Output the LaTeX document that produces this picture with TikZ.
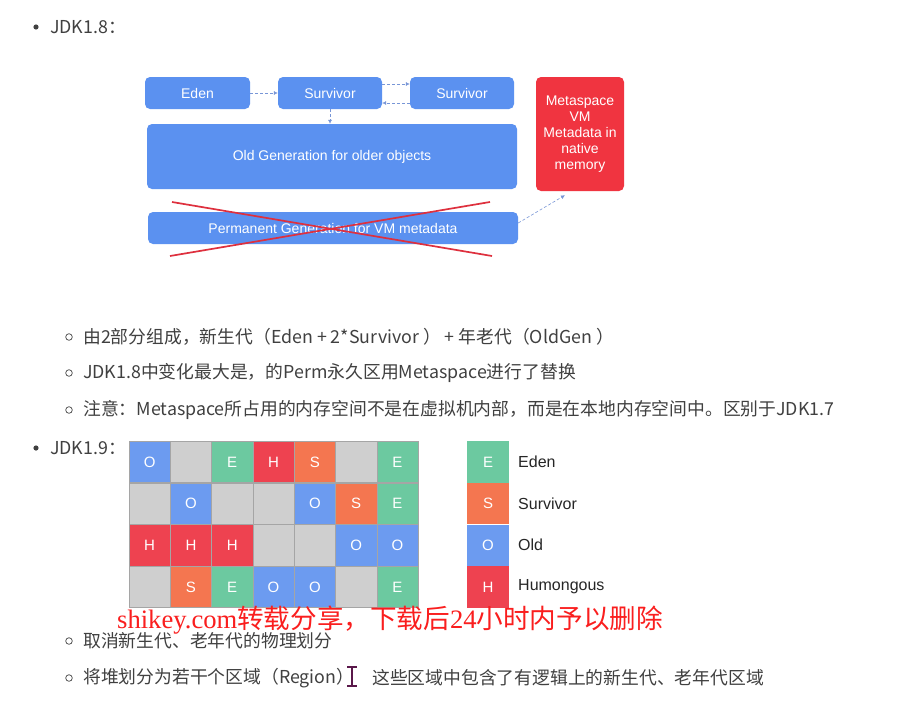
\documentclass[tikz,border=0pt]{standalone}
\usepackage{fontspec}
\setmainfont{Liberation Sans}
\newfontfamily\cjk{Noto Sans CJK SC}
\newfontfamily\wmserif{Liberation Serif}
\usetikzlibrary{arrows.meta}
\definecolor{boxBlue}{RGB}{91,145,240}
\definecolor{metaRed}{RGB}{240,52,64}
\definecolor{crossRed}{RGB}{222,48,62}
\definecolor{flowGrey}{RGB}{120,150,215}
\definecolor{bodyText}{RGB}{64,64,64}
\definecolor{regE}{RGB}{108,201,160}
\definecolor{regS}{RGB}{244,118,80}
\definecolor{regO}{RGB}{108,155,240}
\definecolor{regH}{RGB}{238,66,80}
\definecolor{regN}{RGB}{207,207,207}
\definecolor{regBorder}{RGB}{165,165,165}
\definecolor{markRed}{RGB}{250,30,30}
\definecolor{cursorPurple}{RGB}{90,24,74}

\begin{document}
\begin{tikzpicture}[
  x=1pt, y=-1pt,
  heapbox/.style={fill=boxBlue, rounded corners=5pt, text=white, inner sep=0pt,
                  font=\fontsize{14}{16}\selectfont},
  flow/.style={draw=flowGrey, dash pattern=on 3pt off 2pt, line width=0.6pt,
               -{Latex[length=4pt,width=4pt]}},
  body/.style={anchor=west, text=bodyText, inner sep=0pt,
               font=\cjk\fontsize{17.8}{20}\selectfont},
  region/.style={draw=regBorder, line width=0.4pt, minimum size=41.4pt, inner sep=0pt,
                 text=white, font=\fontsize{15}{15}\selectfont},
  legendtext/.style={anchor=west, inner sep=0pt, text=black!85,
                     font=\fontsize{16}{16}\selectfont},
]
\useasboundingbox[fill=white] (0,0) rectangle (897,723);

% --- JDK1.8 heap layout -------------------------------------------
\fill[bodyText] (36,27) circle (2.6);
\node[body] (jdk8) at (50,27) {JDK1.8：};

\node[heapbox, minimum width=105pt, minimum height=32pt] (eden)  at (197.5,93) {Eden};
\node[heapbox, minimum width=104pt, minimum height=32pt] (surv1) at (330,93)   {Survivor};
\node[heapbox, minimum width=104pt, minimum height=32pt] (surv2) at (462,93)   {Survivor};
\node[heapbox, minimum width=370pt, minimum height=65pt] (oldgen)  at (332,156.5) {Old Generation for older objects};
\node[heapbox, minimum width=370pt, minimum height=32pt] (permgen) at (333,228)   {Permanent Generation for VM metadata};
\node[heapbox, fill=metaRed, minimum width=88pt, minimum height=114pt, align=center] (meta) at (580,134)
  {Metaspace\\VM\\Metadata in\\native\\memory};

\draw[flow] (eden) -- (surv1);
\draw[flow] ([yshift=9pt]surv1.east) -- ([yshift=9pt]surv2.west);
\draw[flow] ([yshift=-10pt]surv2.west) -- ([yshift=-10pt]surv1.east);
\draw[flow] (surv1.south) -- (surv1.south |- oldgen.north);
\draw[flow] ([yshift=5pt]permgen.east) -- ([xshift=-15pt,yshift=-4pt]meta.south);

% permanent generation crossed out
\draw[crossRed, line width=1.7pt] (172,202) -- (492,256);
\draw[crossRed, line width=1.7pt] (170,256) -- (490,202);

% --- JDK1.8 notes --------------------------------------------------
\foreach \y in {337,373,410,641,678} {
  \draw[bodyText, line width=0.7pt] (69,\y) circle (3.3);
}
\node[body] (note1) at (83,337) {由2部分组成，新生代（Eden + 2*Survivor ） + 年老代（OldGen ）};
\node[body] (note2) at (83,373) {JDK1.8中变化最大是，的Perm永久区用Metaspace进行了替换};
\node[body] (note3) at (83,410) {注意：Metaspace所占用的内存空间不是在虚拟机内部，而是在本地内存空间中。区别于JDK1.7};

% --- JDK1.9 region grid --------------------------------------------
\fill[bodyText] (36,448) circle (2.6);
\node[body] (jdk9) at (50,448) {JDK1.9：};

\foreach \cells [count=\r] in {{O,N,E,H,S,N,E},{N,O,N,N,O,S,E},{H,H,H,N,N,O,O},{N,S,E,O,O,N,E}} {
  \foreach \c [count=\k] in \cells {
    \node[region, fill=reg\c] (g\r-\k) at ({129+41.3*(\k-0.5)},{441+41.7*(\r-0.5)}) {\if N\c\else\c\fi};
  }
}

% legend
\foreach \c/\name [count=\r] in {E/Eden, S/Survivor, O/Old, H/Humongous} {
  \node[region, draw=none, fill=reg\c] (key\c) at (488,{441+41.7*(\r-0.5)}) {\c};
  \node[legendtext] (keytext\c) at (518,{441+41.7*(\r-0.5)}) {\name};
}

% watermark
\node[anchor=west, inner sep=0pt, text=markRed, font=\fontsize{26.6}{27}\selectfont] (mark) at (117,620)
  {{\wmserif shikey.com}{\cjk 转载分享，下载后}{\wmserif 24}{\cjk 小时内予以删除}};

% --- JDK1.9 notes --------------------------------------------------
\node[body] (note4) at (83,641) {取消新生代、老年代的物理划分};
\node[body] (note5) at (83,678) {将堆划分为若干个区域（Region）};
\node[body] (note6) at (372,678) {这些区域中包含了有逻辑上的新生代、老年代区域};

% text cursor
\draw[cursorPurple, line width=2.6pt] (352,667) -- (352,686);
\draw[cursorPurple, line width=1.8pt] (347,667) -- (357,667) (347,686) -- (357,686);
\end{tikzpicture}
\end{document}
